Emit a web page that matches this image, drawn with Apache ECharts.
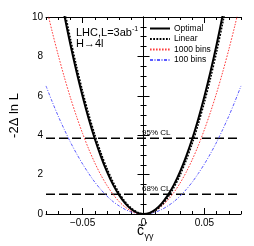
<!DOCTYPE html>
<html><head><meta charset="utf-8">
<script src="https://cdn.jsdelivr.net/npm/echarts@6/dist/echarts.min.js"></script>
<style>html,body{margin:0;padding:0;background:#fff}#c{width:254px;height:246px}</style>
</head><body><div id="c"></div>
<script>
// x grid values
const xs = [-0.080,-0.075,-0.070,-0.065,-0.060,-0.055,-0.050,-0.045,-0.040,-0.035,-0.030,-0.025,-0.020,-0.015,-0.010,-0.005,0,
            0.005,0.010,0.015,0.020,0.025,0.030,0.035,0.040,0.045,0.050,0.055,0.060,0.065,0.070,0.075,0.080];
const optimal = [15.30,13.44,11.71,10.10,8.60,7.23,5.98,4.84,3.82,2.93,2.15,1.49,0.96,0.54,0.24,0.06,0,
                 0.06,0.24,0.54,0.96,1.49,2.15,2.93,3.82,4.84,5.98,7.23,8.60,10.10,11.71,13.44,15.30];
const linear = [15.6,13.8,12.07,10.43,8.91,7.52,6.24,5.08,4.04,3.12,2.32,1.63,1.07,0.62,0.30,0.09,0.003,
                0.03,0.18,0.45,0.84,1.35,1.97,2.72,3.58,4.57,5.67,6.89,8.23,9.69,11.27,12.9,14.7];
const bins1000 = [10.56,9.27,8.07,6.95,5.91,4.96,4.09,3.30,2.60,1.98,1.45,1.00,0.63,0.35,0.15,0.03,0.00,
                  0.05,0.19,0.41,0.71,1.10,1.57,2.12,2.76,3.48,4.29,5.18,6.15,7.21,8.35,9.57,10.88];
const bins100 = [6.50,5.71,4.97,4.29,3.65,3.07,2.54,2.06,1.62,1.24,0.91,0.63,0.41,0.23,0.10,0.03,0,
                 0.03,0.10,0.23,0.41,0.63,0.91,1.24,1.62,2.06,2.54,3.07,3.65,4.29,4.97,5.71,6.50];
const clLevels = [3.84, 1.0];
const clLabels = ['95% CL', '68% CL'];
const xRange = [-0.08, 0.08];
const xMajor = [-0.05, 0, 0.05];
const seriesNames = ['Optimal', 'Linear', '1000 bins', '100 bins'];

const pair = ys => xs.map((x, i) => [x, ys[i]]);
const F = 'Liberation Sans, Arial, sans-serif';
const chart = echarts.init(document.getElementById('c'), null, {renderer: 'canvas'});

const baseX = {
  type: 'value', min: xRange[0], max: xRange[1], gridIndex: 0,
  splitLine: {show: false}, axisLine: {show: true, lineStyle: {color: '#000', width: 1}}
};
const baseY = {
  type: 'value', min: 0, max: 10, interval: 2,
  splitLine: {show: false}, axisLine: {show: true, lineStyle: {color: '#000', width: 1}}
};

const option = {
  animation: false,
  backgroundColor: '#fff',
  grid: {left: 43, right: 13, top: 17, bottom: 32, containLabel: false},
  xAxis: [
    Object.assign({}, baseX, {position: 'bottom', interval: 0.01,
      axisTick: {inside: true, length: 3, lineStyle: {color: '#000'}},
      axisLabel: {color: '#000', fontSize: 10, fontFamily: F, margin: 4,
        customValues: xMajor,
        formatter: v => (Math.abs(v) < 1e-9 ? '0' : (v < 0 ? '\u22120.05' : '0.05'))}}),
    Object.assign({}, baseX, {position: 'bottom', axisLine: {show: false}, axisLabel: {show: false},
      axisTick: {inside: true, length: 6, customValues: xMajor, lineStyle: {color: '#000'}}}),
    Object.assign({}, baseX, {position: 'top', interval: 0.01, axisLabel: {show: false},
      axisTick: {inside: true, length: 3, lineStyle: {color: '#000'}}}),
    Object.assign({}, baseX, {position: 'top', axisLine: {show: false}, axisLabel: {show: false},
      axisTick: {inside: true, length: 6, customValues: xMajor, lineStyle: {color: '#000'}}})
  ],
  yAxis: [
    Object.assign({}, baseY, {position: 'left',
      axisTick: {inside: true, length: 6, lineStyle: {color: '#000'}},
      minorTick: {show: true, splitNumber: 4, length: 3, lineStyle: {color: '#000'}},
      axisLabel: {color: '#000', fontSize: 10, fontFamily: F, margin: 3},
      name: '-2\u0394 ln L', nameLocation: 'middle', nameGap: 20, nameRotate: 90,
      nameTextStyle: {color: '#000', fontSize: 13, fontFamily: F}}),
    Object.assign({}, baseY, {position: 'right', axisLabel: {show: false},
      axisTick: {inside: true, length: 6, lineStyle: {color: '#000'}},
      minorTick: {show: true, splitNumber: 4, length: 3, lineStyle: {color: '#000'}}})
  ],
  legend: {
    orient: 'vertical', left: 149, top: 24, itemWidth: 20, itemHeight: 7, itemGap: 1.5,
    padding: 0, data: seriesNames,
    itemStyle: {opacity: 0},
    textStyle: {color: '#000', fontSize: 8.5, fontFamily: F, padding: [0, 0, 0, -1]}
  },
  series: [
    {name: 'CL95', type: 'line', data: [[xRange[0], clLevels[0]], [xRange[1], clLevels[0]]], showSymbol: false,
      lineStyle: {color: '#000', width: 1.5, type: [9, 4]}, z: 1},
    {name: 'CL68', type: 'line', data: [[xRange[0], clLevels[1]], [xRange[1], clLevels[1]]], showSymbol: false,
      lineStyle: {color: '#000', width: 1.5, type: [9, 4]}, z: 1},
    {name: seriesNames[3], type: 'line', data: pair(bins100), smooth: 0.3, showSymbol: false, symbol: 'none',
      color: '#5a5aff', lineStyle: {color: '#5a5aff', width: 1, type: [3, 1.5, 1, 1.5]}},
    {name: seriesNames[2], type: 'line', data: pair(bins1000), smooth: 0.3, showSymbol: false, symbol: 'none',
      color: '#ff3c3c', lineStyle: {color: '#ff3c3c', width: 1, type: [1.6, 1.4]}},
    {name: seriesNames[1], type: 'line', data: pair(linear), smooth: 0.3, showSymbol: false, symbol: 'none',
      color: '#000', lineStyle: {color: '#000', width: 1.5, type: [1.8, 1.4]}},
    {name: seriesNames[0], type: 'line', data: pair(optimal), smooth: 0.3, showSymbol: false, symbol: 'none',
      color: '#000', lineStyle: {color: '#000', width: 2, type: 'solid'}}
  ],
  graphic: [
    {type: 'text', left: 76, top: 26, style: {text: 'LHC,L=3ab{s|-1}', fill: '#000', font: '11px ' + F,
      rich: {s: {fontSize: 7, verticalAlign: 'top', padding: [0, 0, 6, 0]}}}},
    {type: 'text', left: 76, top: 38, style: {text: 'H\u21924l', fill: '#000', font: '11px ' + F}},
    {type: 'text', left: 142, top: 129, style: {text: clLabels[0], fill: '#000', font: '8px ' + F}},
    {type: 'text', left: 142, top: 185, style: {text: clLabels[1], fill: '#000', font: '8px ' + F}},
    {type: 'text', left: 137, top: 224, style: {text: 'c\u0303', fill: '#000', font: '14px ' + F}},
    {type: 'text', left: 145.5, top: 221, style: {text: '\u2032', fill: '#000', font: '9px ' + F}},
    {type: 'text', left: 144.5, top: 232, style: {text: '\u03B3\u03B3', fill: '#000', font: '9px ' + F}}
  ]
};
chart.setOption(option);
</script></body></html>
